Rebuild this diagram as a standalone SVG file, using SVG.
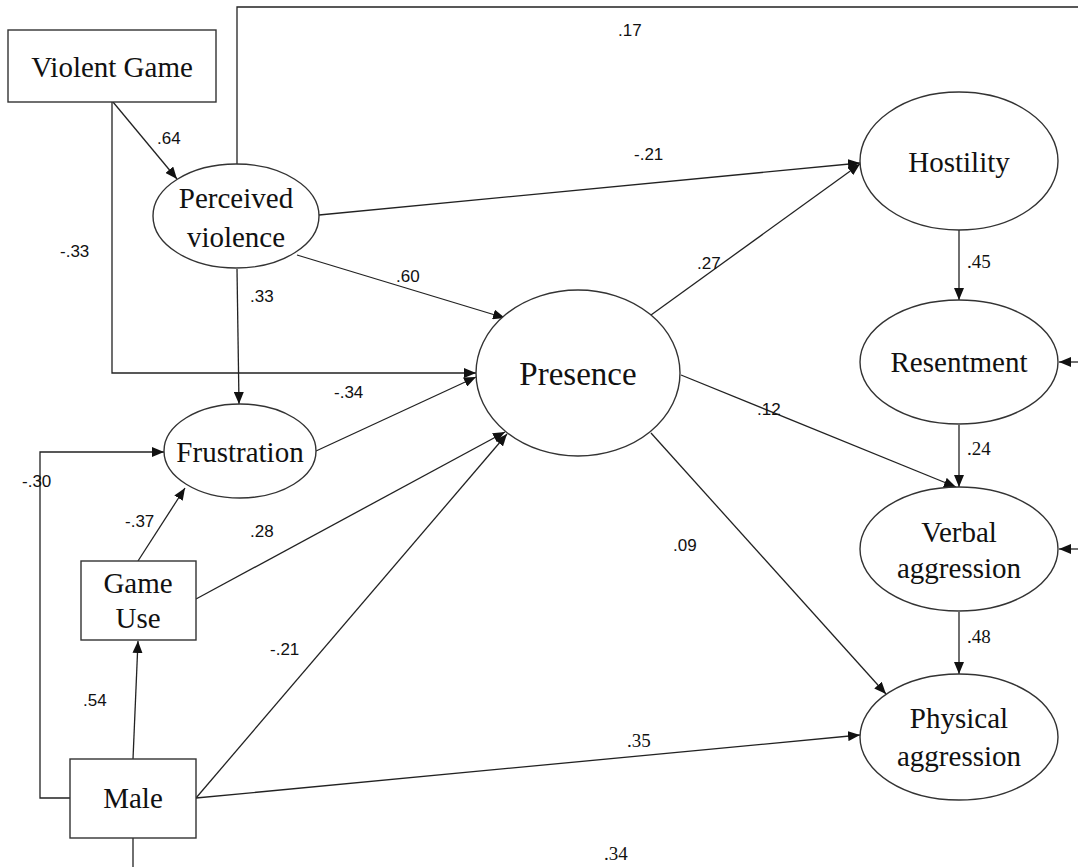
<svg xmlns="http://www.w3.org/2000/svg" width="1078" height="867" viewBox="0 0 1078 867">
<defs>
<marker id="ah" viewBox="0 0 12 10" refX="12" refY="5" markerWidth="12" markerHeight="10" markerUnits="userSpaceOnUse" orient="auto">
<path d="M0,0 L12,5 L0,10 Z" fill="#111"/>
</marker>
</defs>
<style>
.node{fill:#fff;stroke:#333;stroke-width:1.4}
.nt{font-size:29px;fill:#111;text-anchor:middle}
.c{fill:none;stroke:#222;stroke-width:1.3}
.a{marker-end:url(#ah)}
.lb{font-size:17px;fill:#111}
.ls{font-size:19px;fill:#111}
</style>
<rect width="1078" height="867" fill="#fff"/>
<g id="connectors">
<polyline class="c" points="237,164 237,7 1078,7"/>
<line class="c a" x1="113" y1="102" x2="177" y2="179"/>
<polyline class="c a" points="112,102 112,373 476,373"/>
<line class="c a" x1="319" y1="215" x2="860" y2="163"/>
<line class="c a" x1="297" y1="255" x2="505" y2="318"/>
<line class="c a" x1="237" y1="269" x2="239" y2="404"/>
<line class="c a" x1="316" y1="451" x2="476" y2="377"/>
<line class="c a" x1="196" y1="599" x2="505" y2="432"/>
<line class="c a" x1="196" y1="798" x2="507" y2="434"/>
<line class="c a" x1="138" y1="561" x2="185" y2="488"/>
<polyline class="c a" points="70,798 40,798 40,452 164,452"/>
<line class="c a" x1="133" y1="759" x2="138" y2="641"/>
<line class="c a" x1="196" y1="798" x2="860" y2="735"/>
<line class="c a" x1="651" y1="315" x2="860" y2="164"/>
<line class="c a" x1="681" y1="375" x2="956" y2="487"/>
<line class="c a" x1="651" y1="433" x2="886" y2="694"/>
<line class="c a" x1="959" y1="230" x2="959" y2="300"/>
<line class="c a" x1="959" y1="425" x2="959" y2="487"/>
<line class="c a" x1="959" y1="612" x2="959" y2="674"/>
<line class="c a" x1="1078" y1="362" x2="1059" y2="362"/>
<line class="c a" x1="1078" y1="549" x2="1059" y2="549"/>
<line class="c" x1="133" y1="838" x2="133" y2="867"/>
</g>
<g id="labels" font-family="Liberation Sans, Arial, sans-serif">
<text class="lb" x="618" y="36">.17</text>
<text class="lb" x="157" y="144">.64</text>
<text class="lb" x="60" y="257">-.33</text>
<text class="lb" x="634" y="160">-.21</text>
<text class="lb" x="396" y="282">.60</text>
<text class="lb" x="250" y="302">.33</text>
<text class="lb" x="334" y="398">-.34</text>
<text class="lb" x="250" y="537">.28</text>
<text class="lb" x="22" y="487">-.30</text>
<text class="lb" x="125" y="527">-.37</text>
<text class="lb" x="270" y="655">-.21</text>
<text class="lb" x="83" y="706">.54</text>
<text class="ls" x="627" y="747" font-family="Liberation Serif, serif">.35</text>
<text class="ls" x="604" y="860" font-family="Liberation Serif, serif">.34</text>
<text class="lb" x="697" y="269">.27</text>
<text class="lb" x="757" y="415">.12</text>
<text class="lb" x="673" y="551">.09</text>
<text class="ls" x="967" y="268" font-family="Liberation Serif, serif">.45</text>
<text class="ls" x="967" y="455" font-family="Liberation Serif, serif">.24</text>
<text class="ls" x="967" y="643" font-family="Liberation Serif, serif">.48</text>
</g>
<g id="nodes" font-family="Liberation Serif, DejaVu Serif, serif">
<g id="violent-game"><rect class="node" x="8" y="30" width="208" height="72"/><text class="nt" x="112" y="77">Violent Game</text></g>
<g id="perceived-violence"><ellipse class="node" cx="236" cy="216" rx="83" ry="52"/><text class="nt" x="236" y="208">Perceived</text><text class="nt" x="236" y="247">violence</text></g>
<g id="frustration"><ellipse class="node" cx="240" cy="451" rx="76" ry="47"/><text class="nt" x="240" y="462">Frustration</text></g>
<g id="game-use"><rect class="node" x="81" y="561" width="115" height="79"/><text class="nt" x="138" y="593">Game</text><text class="nt" x="138" y="628">Use</text></g>
<g id="male"><rect class="node" x="70" y="759" width="126" height="79"/><text class="nt" x="133" y="808">Male</text></g>
<g id="presence"><ellipse class="node" cx="578" cy="373" rx="102" ry="83"/><text class="nt" x="578" y="385" style="font-size:33px">Presence</text></g>
<g id="hostility"><ellipse class="node" cx="959" cy="161" rx="99" ry="69"/><text class="nt" x="959" y="172">Hostility</text></g>
<g id="resentment"><ellipse class="node" cx="959" cy="362" rx="99" ry="62"/><text class="nt" x="959" y="372">Resentment</text></g>
<g id="verbal-aggression"><ellipse class="node" cx="959" cy="549" rx="99" ry="62"/><text class="nt" x="959" y="542">Verbal</text><text class="nt" x="959" y="578">aggression</text></g>
<g id="physical-aggression"><ellipse class="node" cx="959" cy="737" rx="99" ry="63"/><text class="nt" x="959" y="728">Physical</text><text class="nt" x="959" y="766">aggression</text></g>
</g>
</svg>
